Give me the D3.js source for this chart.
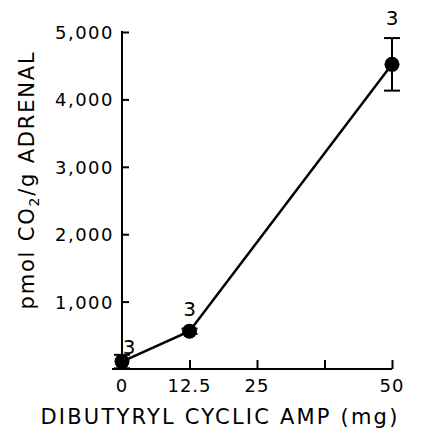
<!DOCTYPE html>
<html><head><meta charset="utf-8">
<script src="https://cdn.jsdelivr.net/npm/d3@7"></script>
<style>body{margin:0;background:#fff}</style>
</head><body>
<script>
const doses = [0, 12.5, 50];
const values = [110, 560, 4520];
const errors = [100, 40, 390];
const nLabels = ["3", "3", "3"];
const xTicks = [0, 12.5, 25, 37.5, 50];
const xTickLabels = ["0", "12.5", "25", "", "50"];
const yTicks = [1000, 2000, 3000, 4000, 5000];

const W = 440, H = 432;
const svg = d3.select("body").append("svg").attr("width", W).attr("height", H);
const x = d3.scaleLinear().domain([0, 50]).range([122, 392]);
const y = d3.scaleLinear().domain([0, 5000]).range([369, 32]);
const font = "'DejaVu Sans', sans-serif";

// x axis
const xa = svg.append("g").attr("transform", `translate(0,${y(0)})`)
  .call(d3.axisTop(x).tickValues(xTicks).tickSize(9).tickFormat(""));
xa.select(".domain").remove();
svg.append("line").attr("x1", 112).attr("x2", x(50)).attr("y1", y(0)).attr("y2", y(0))
  .attr("stroke", "#000").attr("stroke-width", 2);
xa.selectAll("line").attr("stroke-width", 2);
svg.selectAll(".xl").data(xTicks).join("text")
  .attr("x", d => x(d)).attr("y", y(0) + 23)
  .attr("text-anchor", "middle").attr("font-family", font).attr("font-size", 18)
  .attr("letter-spacing", 1)
  .text((d, i) => xTickLabels[i]);

// y axis
const ya = svg.append("g").attr("transform", `translate(${x(0)},0)`)
  .call(d3.axisRight(y).tickValues(yTicks).tickSize(7).tickFormat(""));
ya.select(".domain").remove();
ya.selectAll("line").attr("stroke-width", 2);
svg.append("line").attr("x1", x(0)).attr("x2", x(0)).attr("y1", y(5000) - 1).attr("y2", y(0))
  .attr("stroke", "#000").attr("stroke-width", 2);
svg.selectAll(".yl").data(yTicks).join("text")
  .attr("x", x(0) - 8).attr("y", d => y(d) + 7)
  .attr("text-anchor", "end").attr("font-family", font).attr("font-size", 18)
  .attr("letter-spacing", 1.5)
  .text(d => d3.format(",")(d));

// line
const pts = doses.map((d, i) => ({x: d, y: values[i], e: errors[i], n: nLabels[i]}));
svg.append("path").datum(pts)
  .attr("d", d3.line().x(d => x(d.x)).y(d => y(d.y)))
  .attr("fill", "none").attr("stroke", "#000").attr("stroke-width", 2.5);

// error bars
const eb = svg.selectAll(".eb").data(pts).join("g");
eb.append("line").attr("x1", d => x(d.x)).attr("x2", d => x(d.x))
  .attr("y1", d => y(d.y + d.e)).attr("y2", d => y(Math.max(0, d.y - d.e)))
  .attr("stroke", "#000").attr("stroke-width", 2);
eb.append("line").attr("x1", d => x(d.x) - 8).attr("x2", d => x(d.x) + 8)
  .attr("y1", d => y(d.y + d.e)).attr("y2", d => y(d.y + d.e))
  .attr("stroke", "#000").attr("stroke-width", 2);
eb.append("line").attr("x1", d => x(d.x) - 8).attr("x2", d => x(d.x) + 8)
  .attr("y1", d => y(Math.max(0, d.y - d.e))).attr("y2", d => y(Math.max(0, d.y - d.e)))
  .attr("stroke", "#000").attr("stroke-width", 2);

svg.selectAll(".pt").data(pts).join("circle")
  .attr("cx", d => x(d.x)).attr("cy", d => y(d.y)).attr("r", 7.5).attr("fill", "#000");

// n labels
const nOff = [[7, -8], [0, -15], [0, -13]];
svg.selectAll(".nl").data(pts).join("text")
  .attr("x", (d, i) => x(d.x) + nOff[i][0])
  .attr("y", (d, i) => y(d.y + (i === 2 ? d.e : 0)) + nOff[i][1])
  .attr("text-anchor", "middle").attr("font-family", font).attr("font-size", 20)
  .text(d => d.n);

// axis titles
svg.append("text").attr("x", 220).attr("y", 424).attr("text-anchor", "middle")
  .attr("font-family", font).attr("font-size", 21).attr("letter-spacing", 2.2)
  .text("DIBUTYRYL CYCLIC AMP (mg)");
const yt = svg.append("text").attr("transform", "translate(34,180) rotate(-90)")
  .attr("text-anchor", "middle").attr("font-family", font).attr("font-size", 21).attr("letter-spacing", 1.8);
yt.append("tspan").text("pmol CO");
yt.append("tspan").attr("font-size", 14).attr("dy", 5).text("2");
yt.append("tspan").attr("dy", -5).text("/g ADRENAL");
</script>
</body></html>
